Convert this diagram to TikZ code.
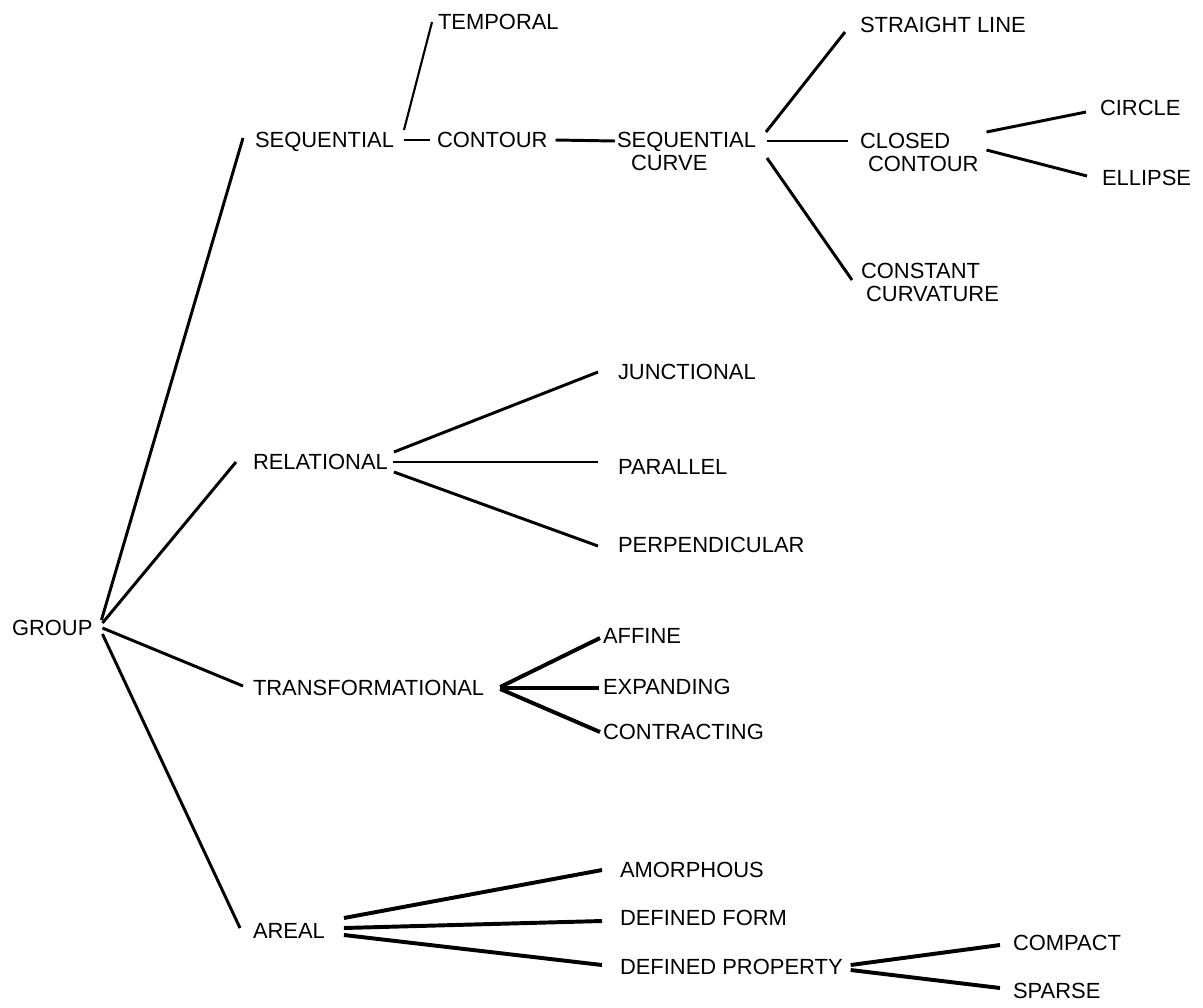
\documentclass[tikz,border=0pt]{standalone}
\usepackage{fontspec}
\setmainfont{Liberation Sans}
\usetikzlibrary{calc}
\begin{document}
\begin{tikzpicture}[x=0.025cm,y=-0.025cm,
  lbl/.style={anchor=west,inner sep=0pt,outer sep=0pt,font=\fontsize{15.6pt}{16.5pt}\selectfont,text height=11.2pt,text depth=0pt},
  lbltwo/.style={anchor=north west,inner sep=0pt,outer sep=0pt,align=left,font=\fontsize{15.6pt}{16.5pt}\selectfont},
  thinline/.style={line width=1.5pt},
  medline/.style={line width=2.1pt},
  heavyline/.style={line width=2.8pt}]
\useasboundingbox (0,0) rectangle (1203,1007);

\node[lbl] (group) at (12,628) {GROUP};
\node[lbl] (seq) at (255,140) {SEQUENTIAL};
\node[lbl] (temp) at (438,22) {TEMPORAL};
\node[lbl] (cont) at (437,140) {CONTOUR};
\node[lbltwo] (sc) at (617,132) {SEQUENTIAL\\\hspace*{10pt}CURVE};
\node[lbl] (straight) at (860,25) {STRAIGHT LINE};
\node[lbltwo] (closed) at (860,133) {CLOSED\\\hspace*{5.7pt}CONTOUR};
\node[lbltwo] (const) at (861,263) {CONSTANT\\\hspace*{3.6pt}CURVATURE};
\node[lbl] (circle) at (1100,108) {CIRCLE};
\node[lbl] (ellipse) at (1102,178) {ELLIPSE};
\node[lbl] (rel) at (253,462) {RELATIONAL};
\node[lbl] (junc) at (618,372) {JUNCTIONAL};
\node[lbl] (par) at (618,467) {PARALLEL};
\node[lbl] (perp) at (618,545) {PERPENDICULAR};
\node[lbl] (trans) at (253,688) {TRANSFORMATIONAL};
\node[lbl] (aff) at (603,636) {AFFINE};
\node[lbl] (expd) at (603,687) {EXPANDING};
\node[lbl] (contr) at (603,732) {CONTRACTING};
\node[lbl] (areal) at (253,931) {AREAL};
\node[lbl] (amor) at (620,870) {AMORPHOUS};
\node[lbl] (dform) at (620,918) {DEFINED FORM};
\node[lbl] (dprop) at (620,967) {DEFINED PROPERTY};
\node[lbl] (compact) at (1013,943) {COMPACT};
\node[lbl] (sparse) at (1013,991) {SPARSE};

\draw[medline] ($(group.east)+(9,-8)$) -- ($(seq.west)+(-12,-2)$);
\draw[medline] ($(group.east)+(10,-5)$) -- ($(rel.west)+(-17,0)$);
\draw[medline] ($(group.east)+(10,0)$) -- ($(trans.west)+(-10,-2)$);
\draw[medline] ($(group.east)+(10,6)$) -- ($(areal.west)+(-13,-3)$);

\draw[medline] ($(seq.east)+(10,0)$) -- ($(cont.west)+(-7,0)$);
\draw[thinline] ($(seq.east)+(10,-10)$) -- ($(temp.west)+(-6,0)$);
\draw[medline] ($(cont.east)+(8,0)$) -- ($(sc.north west)+(-2,9)$);
\draw[medline] ($(sc.north east)+(10,0)$) -- ($(straight.west)+(-15,7)$);
\draw[medline] ($(sc.north east)+(11,9)$) -- ($(closed.north west)+(-12,8)$);
\draw[medline] ($(sc.north east)+(11,26)$) -- ($(const.north west)+(-9,17)$);
\draw[medline] ($(closed.north east)+(8,-1)$) -- ($(circle.west)+(-14,4)$);
\draw[medline] ($(closed.north east)+(8,17)$) -- ($(ellipse.west)+(-15,-2)$);

\draw[medline] ($(rel.east)+(6,-10)$) -- ($(junc.west)+(-20,0)$);
\draw[medline] ($(rel.east)+(5,0)$) -- ($(par.west)+(-20,-5)$);
\draw[medline] ($(rel.east)+(6,10)$) -- ($(perp.west)+(-20,1)$);

\draw[heavyline] ($(trans.east)+(16,-1)$) -- ($(aff.west)+(-3,2)$);
\draw[heavyline] ($(trans.east)+(16,0)$) -- ($(expd.west)+(-4,1)$);
\draw[heavyline] ($(trans.east)+(16,1)$) -- ($(contr.west)+(-3,0)$);

\draw[heavyline] ($(areal.east)+(19,-13)$) -- ($(amor.west)+(-18,0)$);
\draw[heavyline] ($(areal.east)+(19,-3)$) -- ($(dform.west)+(-18,3)$);
\draw[heavyline] ($(areal.east)+(19,4)$) -- ($(dprop.west)+(-18,-2)$);
\draw[heavyline] ($(dprop.east)+(8,-2)$) -- ($(compact.west)+(-13,2)$);
\draw[heavyline] ($(dprop.east)+(8,3)$) -- ($(sparse.west)+(-13,-3)$);
\end{tikzpicture}
\end{document}
